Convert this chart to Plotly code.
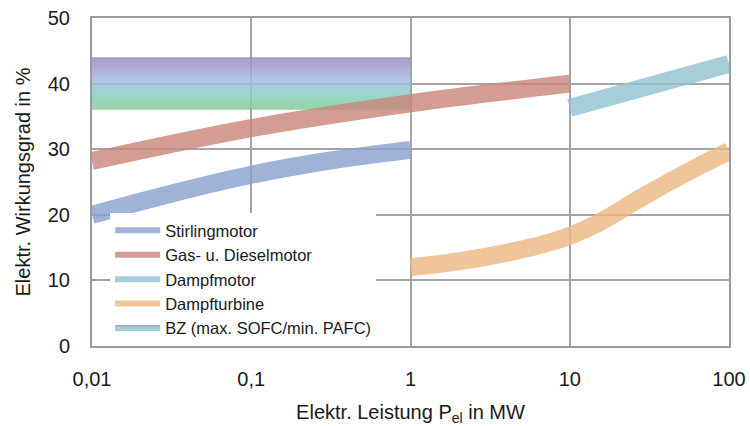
import plotly.graph_objects as go

# Data
stirling_x = [0.01, 0.03, 0.1, 0.3, 1]
stirling_y = [20.0, 23.1, 26.1, 28.2, 29.9]

gas_x = [0.01, 0.1, 1, 10]
gas_y = [28.2, 33.2, 37.0, 40.0]

dampfmotor_x = [10, 100]
dampfmotor_y = [36.3, 43.0]

turbine_x = [1, 2, 4, 7, 10, 15, 30, 60, 100]
turbine_y = [12.0, 12.9, 14.2, 15.6, 16.8, 18.7, 23.0, 27.0, 29.7]

bz_x = [0.01, 1]
bz_min = 36.0
bz_max = 44.0

x_tickvals = [0.01, 0.1, 1, 10, 100]
x_ticktext = ["0,01", "0,1", "1", "10", "100"]
y_tickvals = [0, 10, 20, 30, 40, 50]

FONT = "Liberation Sans, Arial, sans-serif"
LW = 18

fig = go.Figure()

# BZ band with vertical gradient (purple top -> green bottom)
fig.add_trace(go.Scatter(
    x=[bz_x[0], bz_x[1], bz_x[1], bz_x[0], bz_x[0]],
    y=[bz_min, bz_min, bz_max, bz_max, bz_min],
    mode="none", fill="toself",
    fillgradient=dict(
        type="vertical",
        colorscale=[
            [0.0, "rgba(130,205,150,0.85)"],
            [0.3, "rgba(135,205,195,0.85)"],
            [0.55, "rgba(165,188,225,0.85)"],
            [1.0, "rgba(155,135,195,0.85)"],
        ],
    ),
    name="BZ (max. SOFC/min. PAFC)", legendrank=5, hoverinfo="skip",
))

def band(x, y, color, name, rank):
    fig.add_trace(go.Scatter(
        x=x, y=y, mode="lines", line=dict(color=color, width=LW, shape="spline", smoothing=1.0),
        name=name, showlegend=False, hoverinfo="skip"))
    fig.add_trace(go.Scatter(
        x=[None], y=[None], mode="lines", line=dict(color=color, width=6),
        name=name, legendrank=rank))

band(stirling_x, stirling_y, "rgba(139,161,206,0.82)", "Stirlingmotor", 1)
band(gas_x, gas_y, "rgba(201,136,124,0.82)", "Gas- u. Dieselmotor", 2)
band(dampfmotor_x, dampfmotor_y, "rgba(145,194,210,0.82)", "Dampfmotor", 3)
band(turbine_x, turbine_y, "rgba(237,184,130,0.82)", "Dampfturbine", 4)

axis_common = dict(
    showline=True, linecolor="#9a9a9f", linewidth=2, mirror=True,
    showgrid=True, gridcolor="#a3a3a8", gridwidth=1.5,
    zeroline=False, ticks="", automargin=False, ticklabeloverflow="allow",
    tickfont=dict(family=FONT, size=20, color="#1a1a1a"),
)

fig.update_layout(
    width=750, height=426,
    margin=dict(l=92, r=21, t=18, b=80),
    paper_bgcolor="white", plot_bgcolor="white",
    font=dict(family=FONT, color="#1a1a1a"),
    xaxis=dict(type="log", range=[-2, 2], tickvals=x_tickvals, ticktext=x_ticktext,
               ticklabelstandoff=14,
               title=dict(text="Elektr. Leistung P<sub>el</sub> in MW",
                          font=dict(family=FONT, size=20, color="#1a1a1a"), standoff=18),
               **axis_common),
    yaxis=dict(range=[0, 50], tickvals=y_tickvals, ticklabelstandoff=16,
               title=dict(text="Elektr. Wirkungsgrad in %",
                          font=dict(family=FONT, size=20, color="#1a1a1a"), standoff=12),
               **axis_common),
    legend=dict(x=0.0285, y=0.0, xanchor="left", yanchor="bottom",
                bgcolor="white", borderwidth=0, itemwidth=45,
                font=dict(family=FONT, size=16.5, color="#1a1a1a"),
                traceorder="normal", tracegroupgap=0),
    showlegend=True,
)

fig.write_html(
    "out.html",
    config={"displayModeBar": False},
    post_script="document.body.style.margin='0';document.body.style.overflow='hidden';",
)
